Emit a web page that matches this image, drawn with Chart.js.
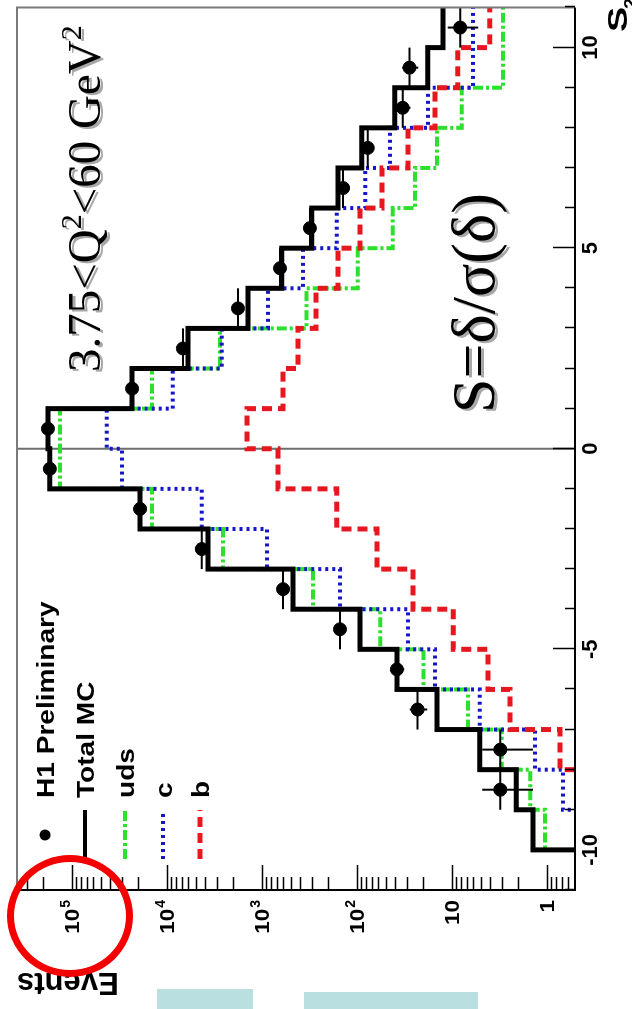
<!DOCTYPE html>
<html>
<head>
<meta charset="utf-8">
<script src="https://cdn.jsdelivr.net/npm/chart.js@4/dist/chart.umd.min.js"></script>
<style>
  html, body { margin: 0; padding: 0; background: #fff; }
  body { width: 632px; height: 1009px; position: relative; overflow: hidden; }
  /* plot is drawn landscape, then turned a quarter left */
  #wrap { position: absolute; left: 0; top: 0; width: 1009px; height: 632px;
          transform-origin: 0 0; transform: translateY(1009px) rotate(-90deg); }
  #wrap canvas { display: block; }
  #ring { position: absolute; left: 7px; top: 855px; width: 112px; height: 108px;
          border: 7px solid #f40000; border-radius: 50%; }
  .bar { position: absolute; background: #b9dfe0; }
</style>
</head>
<body>
<div id="wrap"><canvas id="plot" width="1009" height="632"></canvas></div>
<div id="ring"></div>
<div class="bar" style="left:157px; top:989px; width:96px; height:20px;"></div>
<div class="bar" style="left:304px; top:992px; width:174px; height:17px;"></div>
<script>
// bin edges of S2 (unit bins)
const S2_EDGES = [-10, -9, -8, -7, -6, -5, -4, -3, -2, -1, 0, 1, 2, 3, 4, 5, 6, 7, 8, 9, 10, 11];

// MC histograms, events per bin
const TOTAL_MC = [1.4, 2.1, 5.1, 14.4, 38, 93, 470, 3700, 19200, 171000, 179000, 23300, 6000, 1400, 620, 300, 158, 89, 40, 18, 12.4];
const UDS      = [1.05, 1.5, 3.0, 6.8, 20, 57, 290, 2570, 14400, 134000, 134000, 14400, 2770, 340, 98, 42, 24.5, 14.4, 7.9, 2.9, 2.9];
const CHARM    = [0.35, 0.68, 1.34, 5.1, 15.1, 29, 151, 885, 4300, 29800, 43000, 8700, 2650, 865, 370, 163, 82, 45, 17.9, 6.0, 6.0];
const BEAUTY   = [0, 0, 0.73, 2.45, 4.18, 9.7, 25.7, 61.5, 163, 680, 1440, 600, 417, 270, 158, 93, 54.6, 29, 15.1, 8.7, 4.0];

// H1 data points (bin centres)
const DATA_S2     = [-8.5, -7.5, -6.5, -5.5, -4.5, -3.5, -2.5, -1.5, -0.5, 0.5, 1.5, 2.5, 3.5, 4.5, 5.5, 6.5, 7.5, 8.5, 9.5, 10.5];
const DATA_EVENTS = [3.1, 3.1, 23, 38, 151, 600, 4300, 19200, 171000, 179000, 23300, 6800, 1790, 646, 313, 140, 77, 33, 28, 8.2];
const DATA_ERR    = [1.7, 1.7, 4.8, 6.2, 12, 24, 66, 139, 414, 423, 153, 82, 42, 25, 18, 12, 8.8, 5.7, 5.3, 2.9];

// axis ticks and labels
const EVENT_TICKS  = [1, 10, 100, 1000, 10000, 100000];
const EVENT_LABELS = [['1', ''], ['10', ''], ['10', '2'], ['10', '3'], ['10', '4'], ['10', '5']];
const S2_TICKS  = [-10, -5, 0, 5, 10];
const S2_LABELS = ['-10', '-5', '0', '5', '10'];

const LEGEND_NAMES = ['H1 Preliminary', 'Total MC', 'uds', 'c', 'b'];

const SANS = '"Liberation Sans", Arial, sans-serif';
const SERIF = '"Liberation Serif", "Times New Roman", serif';

// empty bins sit below the log axis
function histo(values) {
  const pts = [{ x: S2_EDGES[0], y: 0.05 }];
  values.forEach((v, i) => pts.push({ x: S2_EDGES[i], y: v > 0 ? v : 0.05 }));
  pts.push({ x: S2_EDGES[S2_EDGES.length - 1], y: values[values.length - 1] || 0.05 });
  return pts;
}

function txt(ctx, s, x, y, font, sx, align) {
  ctx.save();
  ctx.font = font;
  ctx.translate(x, y);
  ctx.scale(sx || 1, 1);
  ctx.textAlign = align || 'left';
  ctx.textBaseline = 'alphabetic';
  ctx.fillText(s, 0, 0);
  ctx.restore();
}

const framePlugin = {
  id: 'frame',
  beforeDatasetsDraw(chart) {
    const { ctx, chartArea: a, scales: { x } } = chart;
    ctx.save();
    ctx.strokeStyle = '#6e6e6e';
    ctx.lineWidth = 2;
    const x0 = x.getPixelForValue(0);
    ctx.beginPath(); ctx.moveTo(x0, a.top); ctx.lineTo(x0, a.bottom); ctx.stroke();
    ctx.restore();
  },
  afterDatasetsDraw(chart) {
    const { ctx, chartArea: a, scales: { x, y } } = chart;
    ctx.save();

    // error bars on the data
    ctx.save();
    ctx.beginPath(); ctx.rect(a.left, a.top, a.right - a.left, a.bottom - a.top); ctx.clip();
    ctx.strokeStyle = '#000';
    ctx.lineWidth = 2;
    DATA_S2.forEach((s, i) => {
      const v = DATA_EVENTS[i], e = DATA_ERR[i];
      const py = y.getPixelForValue(v), px = x.getPixelForValue(s);
      ctx.beginPath();
      ctx.moveTo(x.getPixelForValue(s - 0.5), py); ctx.lineTo(x.getPixelForValue(s + 0.5), py);
      ctx.moveTo(px, y.getPixelForValue(Math.max(v - e, 0.05))); ctx.lineTo(px, y.getPixelForValue(v + e));
      ctx.stroke();
    });
    ctx.restore();

    // frame
    ctx.strokeStyle = '#7a7a7a';
    ctx.lineWidth = 2;
    ctx.beginPath();
    ctx.moveTo(a.left, a.top); ctx.lineTo(a.right, a.top); ctx.lineTo(a.right, a.bottom);
    ctx.stroke();
    ctx.strokeStyle = '#000';
    ctx.beginPath();
    ctx.moveTo(a.left, a.top); ctx.lineTo(a.left, a.bottom); ctx.lineTo(a.right, a.bottom);
    ctx.stroke();

    // Events axis ticks (inside)
    ctx.lineWidth = 1.5;
    ctx.beginPath();
    for (let d = -1; d <= 5; d++) {
      for (let k = 1; k <= 9; k++) {
        const v = k * Math.pow(10, d);
        if (v < y.min || v > y.max) continue;
        const py = Math.round(y.getPixelForValue(v)) + 0.5;
        ctx.moveTo(a.left, py); ctx.lineTo(a.left + (k === 1 ? 25 : 13), py);
      }
    }
    // S2 axis ticks (inside)
    for (let s = -11; s <= 11; s++) {
      const px = Math.round(x.getPixelForValue(s)) + 0.5;
      ctx.moveTo(px, a.bottom); ctx.lineTo(px, a.bottom - (s % 5 === 0 ? 22 : 10));
    }
    ctx.stroke();

    // tick labels
    ctx.fillStyle = '#000';
    EVENT_TICKS.forEach((v, i) => {
      const py = y.getPixelForValue(v);
      const [base, sup] = EVENT_LABELS[i];
      ctx.font = '700 14px ' + SANS;
      const wSup = sup ? ctx.measureText(sup).width + 1 : 0;
      const right = a.left - 10;
      if (sup) txt(ctx, sup, right, py - 2, '700 14px ' + SANS, 1, 'right');
      txt(ctx, base, right - wSup, py + 7.5, '700 21px ' + SANS, 1.07, 'right');
    });
    S2_TICKS.forEach((s, i) => {
      txt(ctx, S2_LABELS[i], x.getPixelForValue(s), a.bottom + 22, '700 22px ' + SANS, 1, 'center');
    });

    // axis titles
    txt(ctx, 'S', 977, 627, '700 28px ' + SANS, 1.35);
    txt(ctx, '2', 1000, 636, '700 17px ' + SANS, 1.2);
    ctx.save();
    ctx.translate(36, a.top);
    ctx.rotate(-Math.PI / 2);
    ctx.font = '700 31px ' + SANS;
    ctx.textAlign = 'right';
    ctx.fillText('Events', 0, 0);
    ctx.restore();

    // legend
    const rows = [45, 85, 125, 163, 200];
    const sets = [0, 1, 4, 3, 2];
    rows.forEach((cy, i) => {
      const ds = chart.data.datasets[sets[i]];
      if (i === 0) {
        ctx.beginPath(); ctx.arc(174, cy, 5.5, 0, Math.PI * 2); ctx.fillStyle = '#000'; ctx.fill();
      } else {
        ctx.save();
        ctx.strokeStyle = ds.borderColor;
        ctx.lineWidth = i === 1 ? 4 : ds.borderWidth;
        ctx.setLineDash(ds.borderDash || []);
        ctx.beginPath(); ctx.moveTo(150, cy); ctx.lineTo(199, cy); ctx.stroke();
        ctx.restore();
      }
      ctx.fillStyle = '#000';
      txt(ctx, LEGEND_NAMES[i], 211, cy + 9, '700 24px ' + SANS, 1.17);
    });

    // kinematic range and variable definition
    ctx.save();
    ctx.shadowColor = '#a8a8a8';
    ctx.shadowOffsetX = -2;
    ctx.shadowOffsetY = 3;
    ctx.fillStyle = '#000';
    let cx = 637;
    const big = '400 47px ' + SERIF, small = '400 30px ' + SERIF;
    [['3.75<Q', big, 0], ['2', small, -19], ['<60 GeV', big, 0], ['2', small, -19]].forEach(([s, f, dy]) => {
      ctx.font = f;
      ctx.fillText(s, cx, 100 + dy);
      cx += ctx.measureText(s).width;
    });
    ctx.font = '400 62px ' + SERIF;
    ctx.fillText('S=δ/σ(δ)', 596, 494);
    ctx.restore();

    ctx.restore();
  }
};

const lineBase = { stepped: true, pointRadius: 0, fill: false, borderCapStyle: 'butt', borderJoinStyle: 'miter' };

new Chart(document.getElementById('plot').getContext('2d'), {
  type: 'line',
  data: {
    datasets: [
      { label: 'H1 Preliminary', data: DATA_S2.map((s, i) => ({ x: s, y: DATA_EVENTS[i] })),
        showLine: false, pointRadius: 6.5, pointBackgroundColor: '#000', pointBorderColor: '#000', borderColor: '#000', order: 0 },
      Object.assign({ label: 'Total MC', data: histo(TOTAL_MC), borderColor: '#000', borderWidth: 5, order: 1 }, lineBase),
      Object.assign({ label: 'b', data: histo(BEAUTY), borderColor: '#e8161e', borderWidth: 5, borderDash: [10, 6], order: 2 }, lineBase),
      Object.assign({ label: 'c', data: histo(CHARM), borderColor: '#1616c8', borderWidth: 4, borderDash: [3, 4], order: 3 }, lineBase),
      Object.assign({ label: 'uds', data: histo(UDS), borderColor: '#2ee02e', borderWidth: 4, borderDash: [10, 3, 3, 3], order: 4 }, lineBase)
    ]
  },
  options: {
    responsive: false,
    animation: false,
    devicePixelRatio: 1,
    layout: { padding: { left: 119, right: 3, top: 17, bottom: 57 } },
    plugins: { legend: { display: false }, tooltip: { enabled: false } },
    scales: {
      x: { type: 'linear', min: -11, max: 11, display: false },
      y: { type: 'logarithmic', min: 0.507, max: 379000, display: false }
    }
  },
  plugins: [framePlugin]
});
</script>
</body>
</html>
